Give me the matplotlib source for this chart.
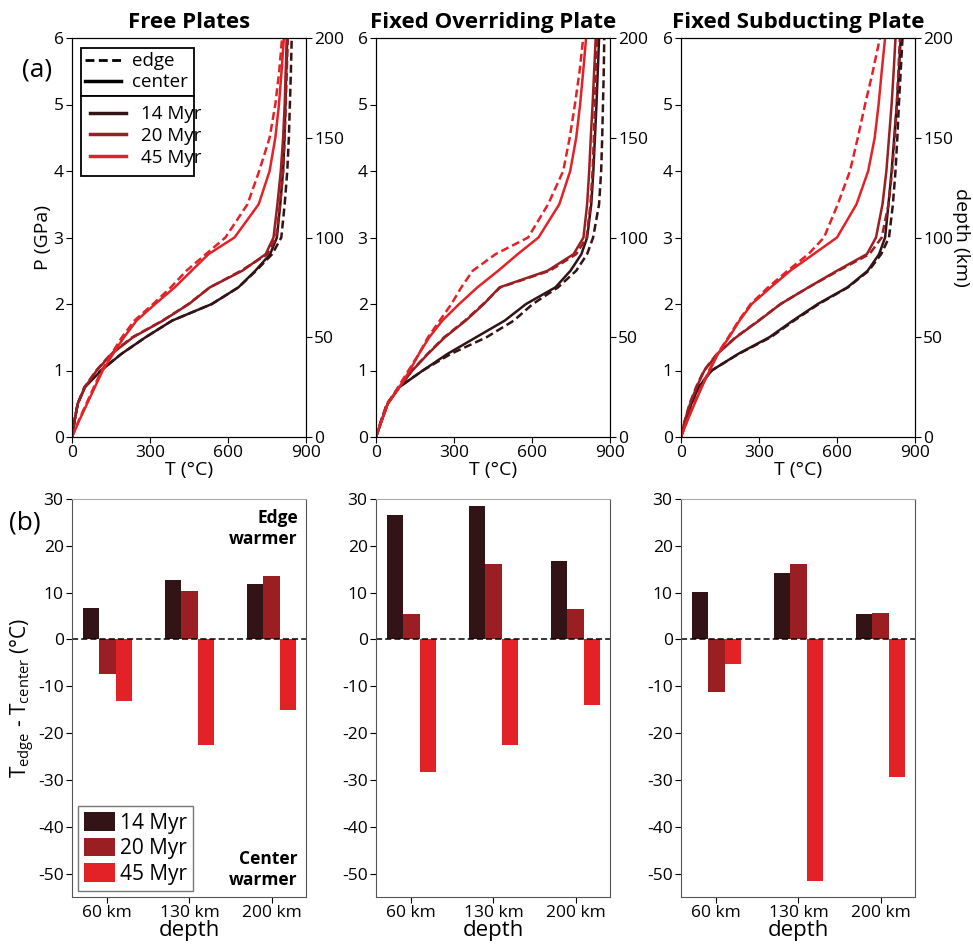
import matplotlib
matplotlib.use("Agg")
import matplotlib.pyplot as plt
from matplotlib.lines import Line2D
import numpy as np

plt.rcParams['font.family'] = ['Open Sans', 'DejaVu Sans']

# ---------------- data ----------------
titles = ["Free Plates", "Fixed Overriding Plate", "Fixed Subducting Plate"]
ages = ["14 Myr", "20 Myr", "45 Myr"]
colors = ["#331416", "#9a1e22", "#e32228"]

P_grid = [0, 0.25, 0.5, 0.75, 1.0, 1.25, 1.5, 1.75, 2.0, 2.25, 2.5, 2.75, 3.0, 3.5, 4.0, 4.5, 5.0, 5.5, 6.0]

# Free plates (T in degC at each P_grid value)
free_14_center = [0, 10, 22, 50, 112, 190, 283, 385, 538, 640, 705, 762, 788, 801, 812, 817, 821, 824, 828]
free_14_edge   = [0, 10, 22, 48, 110, 190, 283, 385, 538, 640, 708, 770, 805, 818, 828, 834, 838, 842, 845]
free_20_center = [0, 10, 22, 50, 95, 152, 235, 350, 450, 530, 655, 745, 775, 790, 803, 812, 818, 822, 826]
free_20_edge   = [0, 10, 22, 48, 93, 150, 232, 348, 448, 530, 650, 752, 785, 800, 812, 818, 822, 826, 830]
free_45_center = [0, 28, 58, 88, 118, 158, 200, 248, 320, 395, 460, 525, 625, 718, 760, 782, 796, 806, 815]
free_45_edge   = [0, 26, 55, 84, 114, 152, 192, 240, 312, 380, 440, 515, 590, 675, 720, 760, 782, 797, 808]

# Fixed overriding plate
fop_14_center = [0, 22, 45, 90, 180, 275, 385, 495, 577, 690, 748, 790, 812, 828, 836, 842, 848, 853, 858]
fop_14_edge   = [0, 20, 42, 88, 180, 288, 425, 530, 603, 700, 770, 812, 835, 858, 866, 870, 873, 876, 878]
fop_20_center = [0, 22, 45, 90, 140, 200, 265, 345, 415, 475, 660, 760, 798, 812, 820, 826, 833, 839, 845]
fop_20_edge   = [0, 20, 43, 88, 138, 198, 262, 342, 412, 478, 668, 770, 810, 825, 833, 838, 842, 846, 850]
fop_45_center = [0, 22, 45, 90, 130, 165, 205, 255, 320, 390, 470, 545, 625, 705, 747, 770, 785, 797, 808]
fop_45_edge   = [0, 22, 45, 85, 125, 165, 200, 245, 290, 328, 372, 460, 585, 662, 720, 745, 765, 783, 797]

# Fixed subducting plate
fsp_14_center = [0, 18, 40, 68, 118, 220, 340, 430, 526, 640, 718, 762, 785, 798, 810, 820, 830, 838, 845]
fsp_14_edge   = [0, 18, 40, 66, 118, 222, 345, 435, 530, 642, 722, 770, 800, 815, 825, 832, 838, 845, 852]
fsp_20_center = [0, 15, 35, 60, 90, 140, 212, 300, 383, 490, 600, 715, 750, 775, 790, 800, 810, 818, 825]
fsp_20_edge   = [0, 15, 33, 58, 88, 138, 210, 298, 383, 490, 605, 725, 772, 798, 812, 822, 830, 836, 842]
fsp_45_center = [0, 25, 52, 80, 110, 142, 185, 225, 272, 345, 420, 510, 600, 675, 720, 745, 760, 772, 785]
fsp_45_edge   = [0, 24, 50, 78, 108, 140, 182, 222, 268, 335, 410, 490, 550, 603, 650, 680, 708, 738, 765]

center_T = [[free_14_center, free_20_center, free_45_center],
            [fop_14_center, fop_20_center, fop_45_center],
            [fsp_14_center, fsp_20_center, fsp_45_center]]
edge_T = [[free_14_edge, free_20_edge, free_45_edge],
          [fop_14_edge, fop_20_edge, fop_45_edge],
          [fsp_14_edge, fsp_20_edge, fsp_45_edge]]

# Bar data: T_edge - T_center at depths
depth_labels = ["60 km", "130 km", "200 km"]
free_dT = {"14 Myr": [6.7, 12.8, 11.8], "20 Myr": [-7.3, 10.3, 13.5], "45 Myr": [-13.1, -22.5, -15.0]}
fop_dT  = {"14 Myr": [26.6, 28.4, 16.8], "20 Myr": [5.4, 16.1, 6.5], "45 Myr": [-28.2, -22.6, -14.0]}
fsp_dT  = {"14 Myr": [10.1, 14.2, 5.4], "20 Myr": [-11.2, 16.1, 5.6], "45 Myr": [-5.2, -51.5, -29.4]}
bar_data = [free_dT, fop_dT, fsp_dT]

# ---------------- figure ----------------
W, H = 973, 944
fig = plt.figure(figsize=(W / 100, H / 100), dpi=100)

lefts = [72, 376, 681]
aw = 234
tick_fs = 12.5
dash = (0, (3.2, 1.6))

for i in range(3):
    ax = fig.add_axes([lefts[i] / W, (H - 437) / H, aw / W, 399 / H])
    for j in range(3):
        ax.plot(edge_T[i][j], P_grid, color=colors[j], lw=1.8, linestyle=dash)
        ax.plot(center_T[i][j], P_grid, color=colors[j], lw=1.8)
    ax.set_xlim(0, 900)
    ax.set_ylim(0, 6)
    ax.set_xticks([0, 300, 600, 900])
    ax.set_yticks([0, 1, 2, 3, 4, 5, 6])
    ax.tick_params(labelsize=tick_fs, length=4, pad=2)
    ax.set_xlabel("T (°C)", fontsize=14, labelpad=0)
    ax.set_title(titles[i], fontsize=16, fontweight='bold', pad=7)
    ax2 = ax.twinx()
    ax2.set_ylim(0, 200)
    ax2.set_yticks([0, 50, 100, 150, 200])
    ax2.tick_params(labelsize=tick_fs, length=4, pad=2)
    if i == 0:
        ax.set_ylabel("P (GPa)", fontsize=14, labelpad=1)
        h1 = [Line2D([], [], color='black', lw=2.0, linestyle=dash),
              Line2D([], [], color='black', lw=2.5)]
        leg1 = ax.legend(h1, ["edge", "center"], loc='lower left',
                         bbox_to_anchor=(0.037, 0.855, 0.484, 0.0), mode='expand',
                         borderaxespad=0, fontsize=13.5, fancybox=False, framealpha=1,
                         edgecolor='black', handlelength=1.9, handletextpad=0.6,
                         labelspacing=0.15, borderpad=0.25)
        leg1.get_frame().set_linewidth(1.3)
        ax.add_artist(leg1)
        h2 = [Line2D([], [], color=c, lw=2.5) for c in colors]
        leg2 = ax.legend(h2, ages, loc='upper left',
                         bbox_to_anchor=(0.037, 0.855, 0.484, 0.0), mode='expand',
                         borderaxespad=0, fontsize=13.5, fancybox=False, framealpha=1,
                         edgecolor='black', handlelength=1.9, handletextpad=0.8,
                         labelspacing=0.2, borderpad=0.5)
        leg2.get_frame().set_linewidth(1.3)

fig.text(961 / W, 1 - 237 / H, "depth (km)", fontsize=14, rotation=270,
         ha='center', va='center')

# bottom row
x = np.arange(len(depth_labels))
bw = 0.2
for i in range(3):
    ax = fig.add_axes([lefts[i] / W, (H - 897) / H, aw / W, 398 / H])
    for j, age in enumerate(ages):
        ax.bar(x + (j - 1) * bw, bar_data[i][age], width=bw, color=colors[j], label=age)
    ax.axhline(0, color='black', lw=1.1, linestyle=(0, (4, 2)))
    ax.set_xlim(-0.43, 2.42)
    ax.set_ylim(-55, 30)
    ax.set_yticks([30, 20, 10, 0, -10, -20, -30, -40, -50])
    ax.set_yticklabels(["30", "20", "10", "0", "-10", "-20", "-30", "-40", "-50"])
    ax.set_xticks(x)
    ax.set_xticklabels(depth_labels)
    ax.tick_params(labelsize=tick_fs, length=4, pad=2)
    ax.set_xlabel("depth", fontsize=16, labelpad=-1)
    for s in ['left', 'bottom', 'right']:
        ax.spines[s].set_color('#555555')
    ax.spines['top'].set_color('#aaaaaa')
    if i == 0:
        ax.set_ylabel(r"T$_{\mathregular{edge}}$ - T$_{\mathregular{center}}$ (°C)", fontsize=15, labelpad=1)
        leg = ax.legend(loc='lower left', bbox_to_anchor=(0.026, 0.015), borderaxespad=0,
                        fontsize=15, fancybox=False, framealpha=1, edgecolor='#777777',
                        handlelength=1.45, handleheight=1.0, handletextpad=0.25,
                        labelspacing=0.2, borderpad=0.3)
        ax.text(0.965, 0.975, "Edge\nwarmer", transform=ax.transAxes, ha='right', va='top',
                fontsize=12.5, fontweight='bold', linespacing=1.2)
        ax.text(0.965, 0.02, "Center\nwarmer", transform=ax.transAxes, ha='right', va='bottom',
                fontsize=12.5, fontweight='bold', linespacing=1.2)

fig.text(22 / W, 1 - 70 / H, "(a)", fontsize=19, va='center', ha='left')
fig.text(9 / W, 1 - 523 / H, "(b)", fontsize=19, va='center', ha='left')

fig.savefig("out.png", dpi=100)
